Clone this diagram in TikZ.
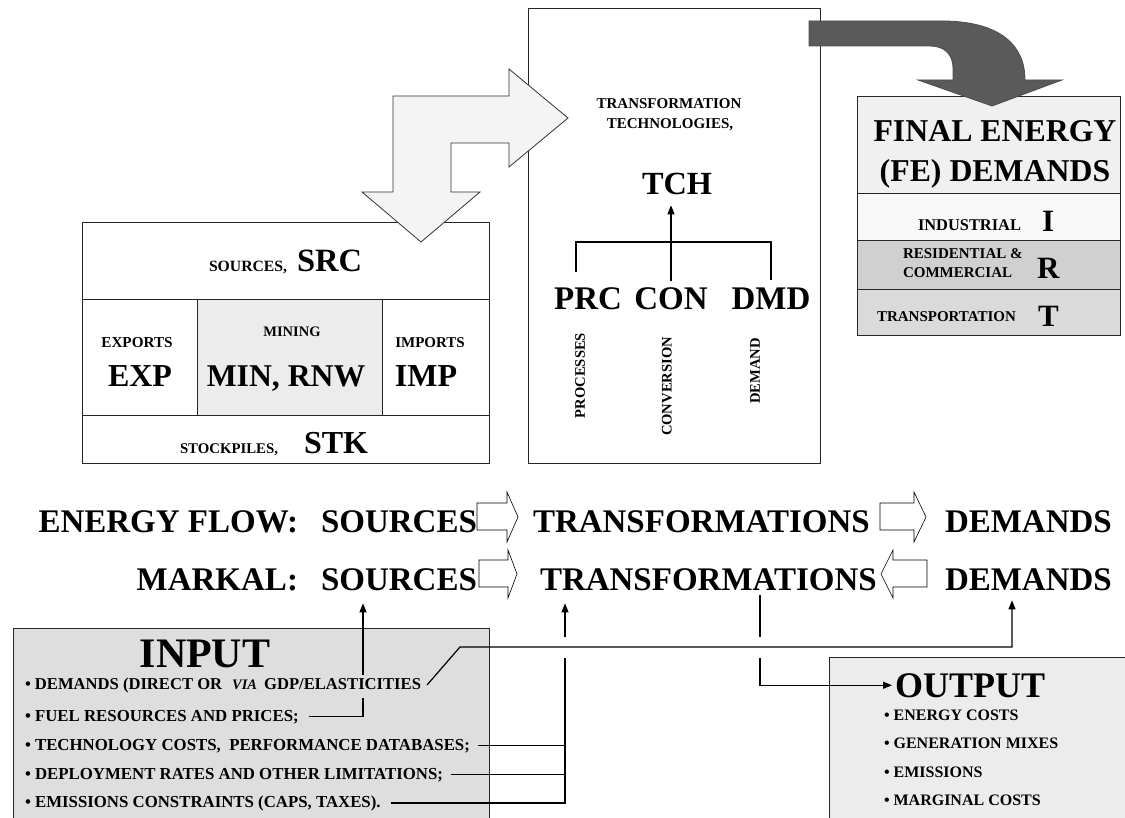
\documentclass[tikz,border=0pt]{standalone}
\usepackage{fontspec}
\setmainfont{Liberation Serif}
\usetikzlibrary{arrows.meta}
\definecolor{inputgray}{HTML}{DEDEDE}
\definecolor{outputgray}{HTML}{ECECEC}
\definecolor{minegray}{HTML}{ECECEC}
\definecolor{fetop}{HTML}{F0F0F0}
\definecolor{feind}{HTML}{F8F8F8}
\definecolor{feres}{HTML}{D0D0D0}
\definecolor{fetra}{HTML}{DADADA}
\definecolor{bigarrow}{HTML}{F4F4F4}
\definecolor{darkarrow}{HTML}{5A5A5A}
\newcommand\sz[1]{\fontsize{#1pt}{#1pt}\selectfont\bfseries}
\begin{document}
\begin{tikzpicture}[x=1pt,y=-1pt,
  box/.style={draw=black!85, line width=1pt, inner sep=0pt, outer sep=0pt},
  txt/.style={inner sep=0pt, outer sep=0pt},
  conn/.style={line width=1.2pt, black},
  arr/.style={conn, -{Triangle[length=9pt,width=7pt]}},
  hollow/.style={draw=black, line width=0.6pt, fill=white}]
\useasboundingbox (0,0) rectangle (1125,818);
\clip (0,0) rectangle (1125,818);

% ---------- bottom boxes ----------
\node[box, fill=inputgray, anchor=north west, minimum width=476pt, minimum height=210pt] (inbox) at (13,628) {};
\node[box, fill=outputgray, anchor=north west, minimum width=310pt, minimum height=180pt] (outbox) at (829,657) {};

% ---------- SRC box ----------
\fill[minegray] (197,300) rectangle (382,415);
\node[box, anchor=north west, minimum width=407pt, minimum height=240pt] (srcbox) at (82,223) {};
\draw[box] (82,300) -- (489,300) (82,415) -- (489,415) (197,300) -- (197,415) (382,300) -- (382,415);
\node[txt, anchor=base west, font=\sz{15.7}] (srcl) at (209,272) {SOURCES,};
\node[txt, anchor=base west, font=\sz{32.5}] (src) at (297,272) {SRC};
\node[txt, anchor=base, font=\sz{15.2}] (expl) at (137,348) {EXPORTS};
\node[txt, anchor=base, font=\sz{32}] (exp) at (140,387) {EXP};
\node[txt, anchor=base, font=\sz{14.5}] (minl) at (292,337) {MINING};
\node[txt, anchor=base, font=\sz{31.7}] (min) at (286,387) {MIN, RNW};
\node[txt, anchor=base, font=\sz{15}] (impl) at (430,348) {IMPORTS};
\node[txt, anchor=base, font=\sz{32}] (imp) at (426,387) {IMP};
\node[txt, anchor=base west, font=\sz{14.8}] (stkl) at (180,453) {STOCKPILES,};
\node[txt, anchor=base west, font=\sz{32}] (stk) at (304,453) {STK};

% ---------- TCH box ----------
\node[box, anchor=north west, minimum width=292pt, minimum height=454pt] (tchbox) at (528,9) {};
\node[txt, anchor=base, font=\sz{15}] (tl1) at (669,109) {TRANSFORMATION};
\node[txt, anchor=base, font=\sz{15}] (tl2) at (670,129) {TECHNOLOGIES,};
\node[txt, anchor=base, font=\sz{32.3}] (tch) at (677,195) {TCH};
\node[txt, anchor=base, font=\sz{33}] (prc) at (588,310) {PRC};
\node[txt, anchor=base, font=\sz{33}] (con) at (671,310) {CON};
\node[txt, anchor=base, font=\sz{33}] (dmd) at (771,310) {DMD};
\node[txt, rotate=90, anchor=east, font=\sz{14.6}] (prcl) at (580,333) {PROCESSES};
\node[txt, rotate=90, anchor=east, font=\sz{14.6}] (conl) at (667,337) {CONVERSION};
\node[txt, rotate=90, anchor=east, font=\sz{14.6}] (dmdl) at (755,338) {DEMAND};
\coordinate (bl) at (576,272);
\coordinate (bar) at (673,242);
\coordinate (br) at (771,280);
\draw[conn] (bl) |- (bar) -| (br);
\draw[arr] ([yshift=7pt]con.north) -- ([yshift=-10pt]tch.south -| con.north);

% ---------- FE box ----------
\fill[fetop] (857,97) rectangle (1120,194);
\fill[feind] (857,194) rectangle (1120,241);
\fill[feres] (857,241) rectangle (1120,290);
\fill[fetra] (857,290) rectangle (1120,336);
\node[box, anchor=north west, minimum width=263pt, minimum height=239pt] (febox) at (857,97) {};
\draw[box] (857,194) -- (1120,194) (857,241) -- (1120,241) (857,290) -- (1120,290);
\node[txt, anchor=base, font=\sz{31.8}] (fe1) at (995,142) {FINAL ENERGY};
\node[txt, anchor=base, font=\sz{31.8}] (fe2) at (995,182) {(FE) DEMANDS};
\node[txt, anchor=base west, font=\sz{16.4}] (indl) at (918,231) {INDUSTRIAL};
\node[txt, anchor=base west, font=\sz{31}] (ind) at (1042,232) {I};
\node[txt, anchor=base west, font=\sz{15}] (resl1) at (903,259) {RESIDENTIAL \&};
\node[txt, anchor=base west, font=\sz{15}] (resl2) at (903,278) {COMMERCIAL};
\node[txt, anchor=base west, font=\sz{31}] (res) at (1037,279) {R};
\node[txt, anchor=base west, font=\sz{15}] (tral) at (877,322) {TRANSPORTATION};
\node[txt, anchor=base west, font=\sz{31}] (tra) at (1038,327) {T};

% ---------- big arrows ----------
\draw[fill=bigarrow, draw=black!80, line width=0.8pt]
  (393,96) -- (509,96) -- (509,69) -- (568,118) -- (509,167) -- (509,143)
  -- (451,143) -- (451,192) -- (480,192) -- (421,242) -- (362,192) -- (393,192) -- cycle;
\draw[fill=darkarrow, draw=black!70, line width=0.8pt]
  (809,21) -- (945,21) .. controls (1000,22) and (1025,45) .. (1025,80)
  -- (1062,80) -- (992,106) -- (918,80) -- (953,80) -- (953,68)
  .. controls (953,55) and (945,46) .. (930,46) -- (809,46) -- cycle;

% ---------- flow rows ----------
\node[txt, anchor=base east, font=\sz{33}] (ef) at (298,532) {ENERGY FLOW:};
\node[txt, anchor=base west, font=\sz{33}] (s1) at (321,532) {SOURCES};
\node[txt, anchor=base west, font=\sz{33}] (t1) at (533,532) {TRANSFORMATIONS};
\node[txt, anchor=base west, font=\sz{33}] (d1) at (945,532) {DEMANDS};
\node[txt, anchor=base east, font=\sz{33}] (mk) at (298,590) {MARKAL:};
\node[txt, anchor=base west, font=\sz{33}] (s2) at (321,590) {SOURCES};
\node[txt, anchor=base west, font=\sz{33}] (t2) at (540,590) {TRANSFORMATIONS};
\node[txt, anchor=base west, font=\sz{33}] (d2) at (945,590) {DEMANDS};

\draw[hollow] (477,503) -- (507,503) -- (507,492) -- (518,517) -- (507,542) -- (507,530) -- (477,530) -- cycle;
\draw[hollow] (880,503) -- (914,503) -- (914,492) -- (926,517) -- (914,542) -- (914,530) -- (880,530) -- cycle;
\draw[hollow] (479,560) -- (508,560) -- (508,550) -- (517,574) -- (508,598) -- (508,587) -- (479,587) -- cycle;
\draw[hollow] (927,560) -- (893,560) -- (893,550) -- (881,574) -- (893,598) -- (893,587) -- (927,587) -- cycle;

% ---------- INPUT text ----------
\node[txt, anchor=base, font=\sz{42}] (inp) at (205,667) {INPUT};
\node[txt, anchor=base west, font=\sz{16.6}] (b1) at (25,689) {\textbullet\ DEMANDS (DIRECT OR\hspace{10pt}{\fontsize{14.5pt}{14.5pt}\selectfont\itshape VIA}\hspace{7pt}GDP/ELASTICITIES};
\node[txt, anchor=base west, font=\sz{16.8}] (b2) at (25,721) {\textbullet\ FUEL RESOURCES AND PRICES;};
\node[txt, anchor=base west, font=\sz{16.8}] (b3) at (25,750) {\textbullet\ TECHNOLOGY COSTS,\ \ PERFORMANCE DATABASES;};
\node[txt, anchor=base west, font=\sz{16.8}] (b4) at (25,779) {\textbullet\ DEPLOYMENT RATES AND OTHER LIMITATIONS;};
\node[txt, anchor=base west, font=\sz{16.8}] (b5) at (25,807) {\textbullet\ EMISSIONS CONSTRAINTS (CAPS, TAXES).};

% ---------- OUTPUT text ----------
\node[txt, anchor=base west, font=\sz{36}] (out) at (895,697) {OUTPUT};
\node[txt, anchor=base west, font=\sz{16}] (o1) at (884,720) {\textbullet\ ENERGY COSTS};
\node[txt, anchor=base west, font=\sz{16}] (o2) at (884,748) {\textbullet\ GENERATION MIXES};
\node[txt, anchor=base west, font=\sz{16}] (o3) at (884,777) {\textbullet\ EMISSIONS};
\node[txt, anchor=base west, font=\sz{16}] (o4) at (884,805) {\textbullet\ MARGINAL COSTS};

% ---------- connectors ----------
\path ([yshift=-13pt]s2.south) coordinate (s2b)
      ([yshift=-13pt]t2.south) coordinate (t2b)
      ([yshift=-10pt]d2.south) coordinate (d2b)
      ([yshift=-5pt]t2.south) coordinate (t2o);
\coordinate (jS1) at (363,675);
\coordinate (jS2) at (363,698);
\coordinate (jD) at (460,647);
\coordinate (jD2) at (1012,647);
\coordinate (gT1) at (565,637);
\coordinate (gT2) at (565,658);
\coordinate (gO1) at (760,637);
\coordinate (gO2) at (760,658);

\draw[arr] (jS1) -- (jS1 |- s2b);
\draw[conn] ([xshift=10pt]b2.east) -| (jS2);
\draw[arr] ([xshift=6pt]b1.east) -- (jD) -- (jD2) -- (jD2 |- d2b);
\draw[arr] (gT1) -- (gT1 |- t2b);
\draw[conn] (gT2) -- (gT2 |- b5.east) -- ([xshift=10pt]b5.east);
\draw[conn] ([xshift=8pt]b3.east) -- (b3.east -| gT2);
\draw[conn] ([xshift=8pt]b4.east) -- (b4.east -| gT2);
\draw[conn] (t2o -| gO1) -- (gO1);
\draw[arr] (gO2) |- ([xshift=-3pt]out.west);
\end{tikzpicture}
\end{document}
